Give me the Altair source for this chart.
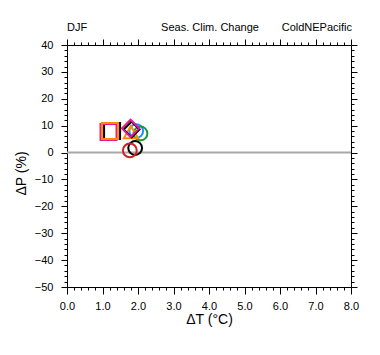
import altair as alt
import pandas as pd

# marker data (drawing order)
dT = [1.27, 1.17, 1.21, 1.92, 1.77, 1.95, 2.07, 1.80, 1.82, 1.79]
dP = [8.0, 7.6, 8.0, 1.7, 0.8, 8.0, 7.1, 7.6, 8.6, 9.0]
shapes = ["square", "square", "square", "circle", "circle", "circle", "circle",
          "triangle-up", "diamond", "diamond"]
colors = ["#000000", "#E0189A", "#FF8C00", "#000000", "#D42020", "#1E90FF",
          "#1A9A3A", "#FF8C00", "#000000", "#E0189A"]
sizes = [256, 256, 256, 190, 190, 190, 190, 200, 250, 300]

x_ticks = [round(0.2 * i, 1) for i in range(41)]
y_ticks = list(range(-50, 41, 2))

df = pd.DataFrame({"dT": dT, "dP": dP, "shape": shapes, "color": colors, "size": sizes})

FONT = "Liberation Sans"
xmajor = "abs(datum.value - round(datum.value)) < 0.001"
ymajor = "datum.value % 10 === 0"

xscale = alt.Scale(domain=[0, 8], nice=False, zero=False)
yscale = alt.Scale(domain=[-50, 40], nice=False, zero=False)

common = dict(grid=False, domainColor="black", tickColor="black", domainWidth=1,
              tickWidth=1, labelOverlap=False, labelFlush=False,
              labelFont=FONT, labelFontSize=11, labelColor="black",
              titleFont=FONT, titleFontSize=14, titleFontWeight="normal",
              titleColor="black")

x_bottom = alt.Axis(values=x_ticks, orient="bottom",
                    labelExpr=xmajor + " ? format(datum.value, '.1f') : ''",
                    tickSize={"condition": {"test": xmajor, "value": 7}, "value": 3},
                    labelPadding=6, title="ΔT (°C)", titleY=25, titleBaseline="top",
                    **common)
y_left = alt.Axis(values=y_ticks, orient="left",
                  labelExpr=ymajor + " ? format(datum.value, 'd') : ''",
                  tickSize={"condition": {"test": ymajor, "value": 6}, "value": 3},
                  labelPadding=8, title="ΔP (%)", titleX=-39, titleY=128,
                  **common)
x_top = alt.Axis(values=x_ticks, orient="top", labels=False, title=None,
                 tickSize={"condition": {"test": xmajor, "value": 6}, "value": 3},
                 **common)
y_right = alt.Axis(values=y_ticks, orient="right", labels=False, title=None,
                   tickSize={"condition": {"test": ymajor, "value": 6}, "value": 3},
                   **common)

zero = alt.Chart(pd.DataFrame({"y": [0]})).mark_rule(color="#A8A8A8", strokeWidth=2).encode(
    y=alt.Y("y:Q", scale=yscale, axis=None)
)

pts = alt.Chart(df).mark_point(filled=False, strokeWidth=2, opacity=1).encode(
    x=alt.X("dT:Q", scale=xscale, axis=x_bottom),
    y=alt.Y("dP:Q", scale=yscale, axis=y_left),
    shape=alt.Shape("shape:N", scale=None),
    color=alt.Color("color:N", scale=None),
    size=alt.Size("size:Q", scale=None),
)

frame = alt.Chart(df).mark_point(opacity=0).encode(
    x=alt.X("dT:Q", scale=xscale, axis=x_top),
    y=alt.Y("dP:Q", scale=yscale, axis=y_right),
)

def label(txt, xpos, align):
    return alt.Chart(pd.DataFrame({"t": [txt]})).mark_text(
        font=FONT, fontSize=11, color="black", align=align, baseline="alphabetic"
    ).encode(x=alt.value(xpos), y=alt.value(-14), text="t:N")

t1 = label("DJF", 0, "left")
t2 = label("Seas. Clim. Change", 143, "center")
t3 = label("ColdNEPacific", 285, "right")

chart = alt.layer(zero, pts, frame, t1, t2, t3).resolve_axis(
    x="independent", y="independent"
).properties(
    width=284, height=242,
    autosize=alt.AutoSizeParams(type="none"),
    padding={"left": 67, "top": 45, "right": 29, "bottom": 68},
).configure_view(stroke=None).configure(background="white")

chart.save("out.html", embed_options={"renderer": "svg", "actions": False})
